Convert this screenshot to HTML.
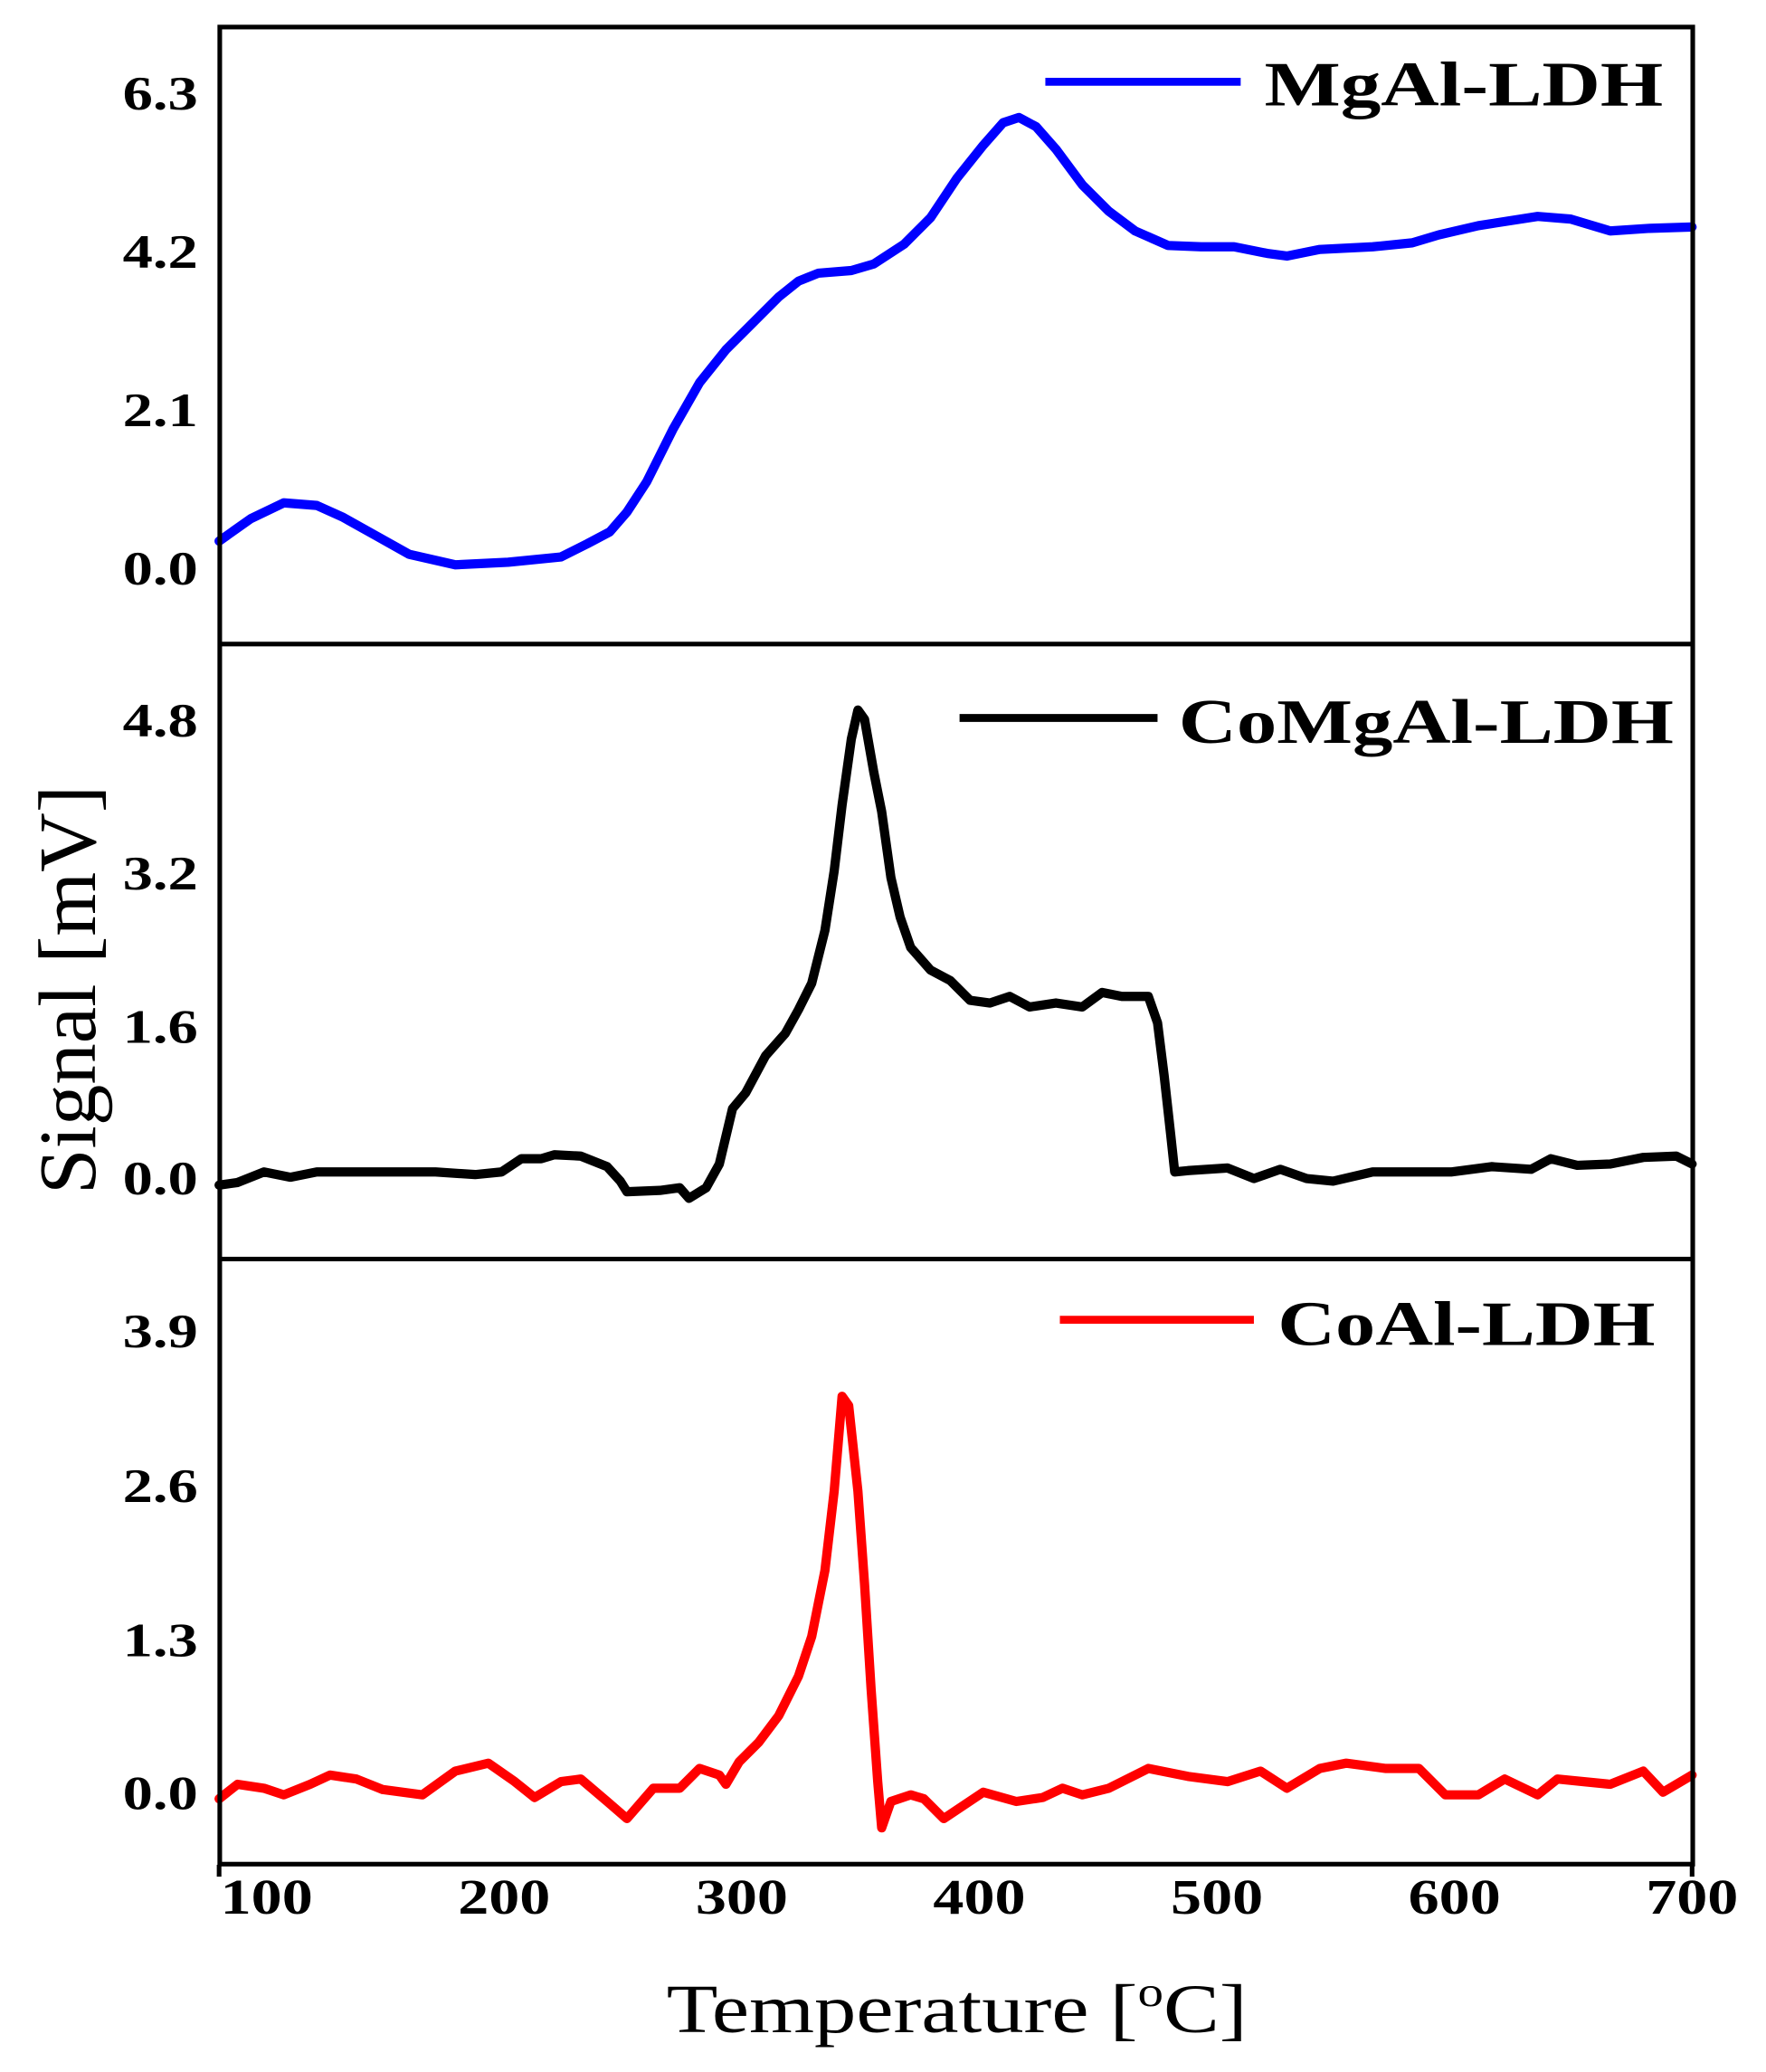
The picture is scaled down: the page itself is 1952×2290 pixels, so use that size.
<!DOCTYPE html>
<html><head><meta charset="utf-8"><style>html,body{margin:0;padding:0;background:#fff}svg{display:block}</style></head>
<body>
<svg width="1952" height="2290" viewBox="0 0 1338 1570" preserveAspectRatio="none" xmlns="http://www.w3.org/2000/svg" font-family="'Liberation Serif', serif">
<g fill="none" stroke-linejoin="round" stroke-linecap="round" stroke-width="7">
<polyline stroke="#0000ff" points="166,410 190,393 215,381 240,383 260,392 285,406 310,420 345,428 385,426 425,422 445,412 462,403 475,388 490,365 510,325 530,290 550,265 570,245 590,225 605,213 620,207 645,205 662,200 685,185 705,165 725,135 745,110 760,93 772,89 785,96 800,113 820,140 840,160 860,175 885,186 910,187 935,187 960,192 975,194 1000,189 1040,187 1070,184 1090,178 1120,171 1165,164 1190,166 1220,175 1250,173 1282,172"/>
<polyline stroke="#000" points="166,898 180,896 200,888 220,892 240,888 300,888 330,888 360,890 380,888 395,878 410,878 420,875 440,876 460,884 470,895 475,903 500,902 515,900 522,908 535,900 545,882 555,840 565,828 580,800 595,783 605,765 615,745 625,705 632,660 638,610 645,560 650,538 655,545 662,585 668,615 675,665 682,695 690,718 705,735 720,743 735,758 750,760 765,755 780,763 800,760 820,763 835,752 850,755 870,755 877,775 882,815 887,860 890,888 900,887 930,885 950,893 970,886 990,893 1010,895 1040,888 1100,888 1130,884 1160,886 1175,878 1195,883 1220,882 1245,877 1270,876 1282,882"/>
<polyline stroke="#ff0000" points="166,1363 180,1352 200,1355 215,1360 235,1352 250,1345 270,1348 290,1356 320,1360 345,1342 370,1336 390,1350 405,1362 425,1350 440,1348 460,1365 475,1378 495,1355 515,1355 530,1340 545,1345 550,1352 560,1335 575,1320 590,1300 605,1270 615,1240 625,1190 632,1130 638,1058 643,1065 650,1130 655,1200 660,1280 665,1350 668,1385 675,1365 690,1360 700,1363 715,1378 730,1368 745,1358 770,1365 790,1362 805,1355 820,1360 840,1355 870,1340 900,1346 930,1350 955,1342 975,1355 1000,1340 1020,1336 1050,1340 1075,1340 1095,1360 1120,1360 1140,1348 1165,1360 1180,1348 1200,1350 1220,1352 1245,1342 1260,1358 1282,1345"/>
</g>
<g stroke="#000" stroke-width="3.5" fill="none">
<rect x="166.5" y="20.5" width="1116" height="1392"/>
<line x1="166" y1="488" x2="1283" y2="488"/>
<line x1="166" y1="954" x2="1283" y2="954"/>
<line x1="166" y1="1413" x2="166" y2="1422"/>
<line x1="1282" y1="1413" x2="1282" y2="1422"/>
</g>
<g stroke-width="6" stroke-linecap="butt">
<line x1="792" y1="62" x2="940" y2="62" stroke="#0000ff"/>
<line x1="727" y1="544" x2="877" y2="544" stroke="#000"/>
<line x1="803" y1="1000" x2="950" y2="1000" stroke="#ff0000"/>
</g>
<g font-weight="bold" font-size="48">
<text x="958" y="80" textLength="302" lengthAdjust="spacingAndGlyphs">MgAl-LDH</text>
<text x="893" y="563" textLength="375" lengthAdjust="spacingAndGlyphs">CoMgAl-LDH</text>
<text x="968" y="1019" textLength="286" lengthAdjust="spacingAndGlyphs">CoAl-LDH</text>
</g>
<g font-weight="bold" font-size="36">
<text x="93" y="83" textLength="57" lengthAdjust="spacingAndGlyphs">6.3</text><text x="93" y="203" textLength="57" lengthAdjust="spacingAndGlyphs">4.2</text><text x="93" y="323" textLength="57" lengthAdjust="spacingAndGlyphs">2.1</text><text x="93" y="443" textLength="57" lengthAdjust="spacingAndGlyphs">0.0</text>
<text x="93" y="558" textLength="57" lengthAdjust="spacingAndGlyphs">4.8</text><text x="93" y="674" textLength="57" lengthAdjust="spacingAndGlyphs">3.2</text><text x="93" y="790" textLength="57" lengthAdjust="spacingAndGlyphs">1.6</text><text x="93" y="905" textLength="57" lengthAdjust="spacingAndGlyphs">0.0</text>
<text x="93" y="1021" textLength="57" lengthAdjust="spacingAndGlyphs">3.9</text><text x="93" y="1138" textLength="57" lengthAdjust="spacingAndGlyphs">2.6</text><text x="93" y="1255" textLength="57" lengthAdjust="spacingAndGlyphs">1.3</text><text x="93" y="1371" textLength="57" lengthAdjust="spacingAndGlyphs">0.0</text>
</g>
<g font-weight="bold" font-size="38">
<text x="167" y="1450" textLength="70" lengthAdjust="spacingAndGlyphs">100</text><text x="347" y="1450" textLength="70" lengthAdjust="spacingAndGlyphs">200</text><text x="527" y="1450" textLength="70" lengthAdjust="spacingAndGlyphs">300</text><text x="707" y="1450" textLength="70" lengthAdjust="spacingAndGlyphs">400</text><text x="887" y="1450" textLength="70" lengthAdjust="spacingAndGlyphs">500</text><text x="1067" y="1450" textLength="70" lengthAdjust="spacingAndGlyphs">600</text><text x="1247" y="1450" textLength="70" lengthAdjust="spacingAndGlyphs">700</text>
</g>
<text x="505" y="1540" font-size="52" textLength="440" lengthAdjust="spacingAndGlyphs">Temperature [<tspan font-size="32" dy="-20">o</tspan><tspan dy="20">C]</tspan></text>
<text transform="translate(72,905) rotate(-90)" font-size="62" textLength="310" lengthAdjust="spacingAndGlyphs">Signal [mV]</text>
</svg>
</body></html>
